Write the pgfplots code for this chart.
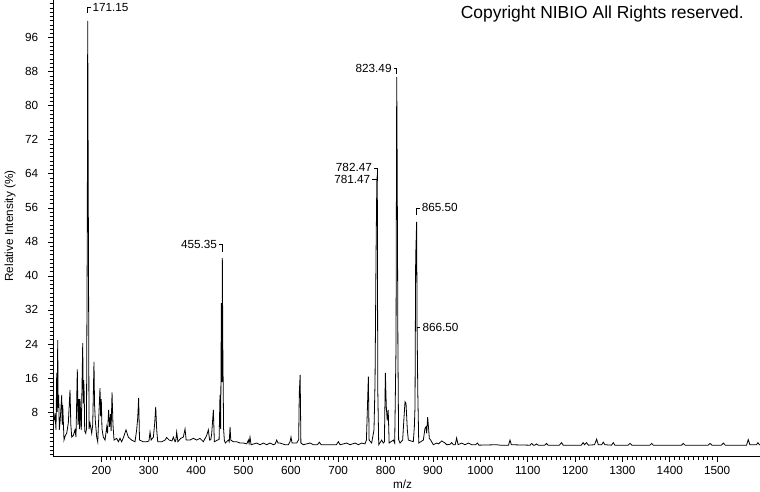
\documentclass[border=0pt]{standalone}
\usepackage{fontspec}
\setmainfont{Liberation Sans}
\usepackage{pgfplots}
\pgfplotsset{compat=1.18}
\tikzset{lab/.style={font=\fontsize{11.8}{13}\selectfont, inner sep=0pt}}
\begin{document}
\begin{tikzpicture}
\useasboundingbox (0,0) rectangle (760bp,492bp);
\begin{axis}[
 at={(53.3bp,36bp)}, anchor=south west,
 scale only axis, width=706.7bp, height=456bp,
 xmin=98.5, xmax=1590.4, ymin=-2.35, ymax=104.9,
 axis x line*=bottom, axis y line*=left,
 xtick={200,300,...,1500}, minor x tick num=9,
 ytick={8,16,...,96}, minor ytick={-2,-1,...,104},
 tick align=outside, major tick length=5.5bp, minor tick length=3.5bp,
 every tick/.style={black, line width=0.8pt},
 axis line style={black, line width=0.8pt},
 tick label style={font=\fontsize{11.8}{13}\selectfont},
 /pgf/number format/assume math mode=true,
 /pgf/number format/1000 sep={},
 yticklabel style={inner sep=0pt, xshift=-9.5bp},
 xticklabel style={inner sep=0pt, yshift=-4.5bp},
 clip=false,
]
\addplot[black, line width=0.8pt] coordinates {
(98.5,5.4) (101,6.5) (102.1,7.7) (104.2,3.8) (105.7,17.2) (106.8,8) (107.8,24.9) (108.8,9) (109.9,12) (111.2,3.8) (113,6) (116.3,12) (117.3,5) (118.4,9.6) (121.1,1.4) (124,2.5) (126.8,3) (130.2,5.4) (133.8,13.2) (135.5,5) (137.4,2.1) (140.8,2.5) (144.3,3.8) (146.4,2.1) (149.2,18) (150.8,5) (152.5,11) (154,4) (154.9,11) (157.6,3.8) (160.6,24.2) (161.8,10) (162.7,15.5) (163.8,12) (164.8,3.5) (166.9,3) (168.5,4) (170.3,51.6) (171.15,100) (172.5,53.6) (173.9,4) (176,5.4) (179.6,3) (181.7,5) (184.4,19.8) (185.5,10) (187.2,6) (190.1,2.1) (192.3,1) (197.1,13.6) (198.5,7) (199.8,11) (201.3,4) (204.1,2.1) (207.7,1.4) (211.3,4.5) (213,3) (215.3,8.5) (217.5,4.5) (219.5,7.5) (220.5,3.5) (222.5,12.6) (224.5,5) (226.7,1.4)
(232.3,1.8) (235.8,1) (239.3,1.8) (242.8,1) (246.3,1.9) (249,2.8) (252,3.8) (256.8,2.1) (263.8,1.4) (271,1) (274.5,3.8) (276.7,6.6) (278.7,11.3) (280.5,1.4) (288.6,1) (295.7,1) (300.5,1.2) (302.7,3.3) (305,1.4) (309.8,2.1) (312.6,5.4) (314.7,9.2) (316.8,3.8) (319,1) (327.3,1) (334.4,1.4) (337.9,2) (343,1.4) (349,1.2) (352,2.1) (355.5,1) (357,1.2) (359,3.3) (361.5,1) (367.4,1.8) (373,2.1) (376.6,4) (379,1.4) (387.1,1.4) (394.2,1.8) (401.2,1.4) (408.2,1.8) (411.8,1.4) (415.3,1) (422.3,2.5) (425.8,3.8) (428.5,1.4) (431,1.5) (432.9,2.9) (436.4,8.5) (438.5,1) (444.8,1.4) (448.5,1.5) (450.4,12) (451.8,4) (453.3,33.6) (454.4,15) (455.35,44.2) (456.4,23) (458,4) (459.6,1.4) (461.7,0.7) (468.1,1.4) (470,1) (471.6,4.5) (473.2,1.4) (478.6,1) (485.7,1) (492.7,0.7) (499.7,0.7) (507,0.5) (510.3,1.4) (511.8,0.6) (513.8,2.1) (516,0.3) (527.9,0.7) (534.9,0.3) (542,0.7) (549,0.3) (556,0.7) (563.1,0.3) (567,0.5) (570.1,1.4) (573,0.7) (577.1,0.7) (587.7,0.3) (594.7,0.3) (598.2,1) (600.3,2.1) (602.5,0.7) (612.3,0.7) (616.5,1.5) (617.8,12.4) (619.6,16.7) (621.2,0.7) (626.4,0.3) (640.4,0.7) (647.5,0.3) (656,0.3) (660.1,0.9) (664,0.3) (689.7,0.3) (696,0.3) (700.3,1) (704,0.3) (717.8,0.7) (724.9,0.3) (735.4,0.7) (742.5,0.3) (749.5,0.7) (756.5,0.5)
(759.5,1.4) (761.5,8.5) (763.6,16.3) (765.2,1.4) (770.6,0.7) (775.5,3.8) (777.7,14.8) (779.8,44.5) (781.47,62.2) (782.47,63.8) (783.5,13.2) (785.5,0.3) (791.7,1.4) (795.2,0.7) (797.5,1) (799.5,17.2) (801.5,9.2) (803.5,6) (805.5,8.5) (807.5,0.7) (816.4,1.4) (819.2,0.7) (822,23.3) (823.49,86.8) (824.49,65.4) (826,23) (827.5,1.5) (830.4,0.7) (836,1.4) (838.9,6.8) (841,10.4) (843.1,10) (845.9,3.8) (848,1.4) (858.5,1) (860.7,4.5) (862.1,9.2) (863.5,44.2) (865.5,52.7) (866.5,28) (868,12.4) (870,0.7) (879.7,1.4) (883.2,4.2) (885.3,4.5) (886.7,3) (888.8,6.8) (891,3.8) (892.3,1.8) (895.1,1.4) (900.8,0.3) (907.8,0.7) (912,0.5) (918.4,1.2) (925.4,0.7) (929,0.3) (936,0.4) (939.5,0.8) (943,0.3) (947,0.3) (950,1.9) (953,0.3) (960.6,0.7) (967.6,0.3) (974.7,0.7) (981.7,0.3) (990,0.3) (993.7,0.7) (997,0.2) (1034.5,0.3) (1041.5,0.2) (1059.5,0.2) (1062.6,1.4) (1065.5,0.3) (1101.3,0.2) (1105,0.2) (1108.3,0.6) (1112,0.2) (1115,0.2) (1118.6,0.5) (1122,0.2) (1136,0.2) (1139.7,0.6) (1143,0.2) (1167,0.2) (1171.3,0.8) (1175,0.2) (1213,0.2) (1217,0.8) (1220,0.3) (1224,0.8) (1228,0.2) (1241,0.3) (1245.5,1.6) (1249,0.3) (1256,0.3) (1259.5,0.9) (1263,0.3) (1277,0.2) (1280.6,0.8) (1284,0.2) (1312,0.2) (1316,0.6) (1320,0.2) (1358,0.2) (1361.7,0.6) (1365,0.2) (1425,0.2) (1428.5,0.6) (1432,0.2) (1481,0.2) (1485,0.6) (1489,0.2) (1509,0.2) (1513,0.7) (1517,0.2) (1562,0.2) (1565.6,1.5) (1569,0.3) (1583,0.3) (1586,0.8) (1589,0.3) (1590.4,0.3)
};
% peak annotations
\draw[line width=0.8pt] (axis cs:171.15,101.9) -- (axis cs:171.15,103.1) -- (axis cs:177.5,103.1);
\node[lab, anchor=west] at (axis cs:181,103.1) {171.15};
\draw[line width=0.8pt] (axis cs:455.35,45.6) -- (axis cs:455.35,47.3) -- (axis cs:448.5,47.3);
\node[lab, anchor=east] at (axis cs:444.5,47.3) {455.35};
\draw[line width=0.8pt] (axis cs:823.49,87.6) -- (axis cs:823.49,88.9) -- (axis cs:817,88.9);
\node[lab, anchor=east] at (axis cs:813,88.9) {823.49};
\draw[line width=0.8pt] (axis cs:781.9,62.4) -- (axis cs:781.9,65.4) -- (axis cs:775.5,65.4);
\node[lab, anchor=east] at (axis cs:771.5,65.4) {782.47};
\draw[line width=0.8pt] (axis cs:781.9,62.6) -- (axis cs:771,62.6);
\node[lab, anchor=east] at (axis cs:768,62.6) {781.47};
\draw[line width=0.8pt] (axis cs:865.5,54.4) -- (axis cs:865.5,56) -- (axis cs:872,56);
\node[lab, anchor=west] at (axis cs:876,56) {865.50};
\draw[line width=0.8pt] (axis cs:866.5,28) -- (axis cs:873.5,28);
\node[lab, anchor=west] at (axis cs:877.5,28) {866.50};
\end{axis}
\node[rotate=90, font=\fontsize{11.8}{13}\selectfont, inner sep=0pt] at (10bp,266bp) {Relative Intensity (\%)};
\node[font=\fontsize{11.8}{13}\selectfont, inner sep=0pt] at (402.5bp,8bp) {m/z};
\node[anchor=base east, font=\fontsize{17.5}{20}\selectfont, inner sep=0pt] at (744bp,473bp) {Copyright NIBIO All Rights reserved.};
\end{tikzpicture}
\end{document}
